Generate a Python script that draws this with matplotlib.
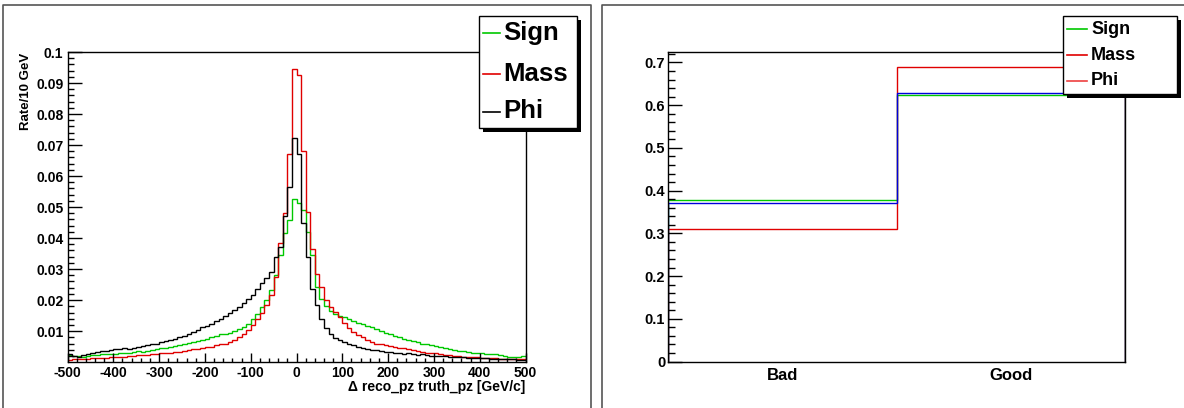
import numpy as np
import matplotlib
matplotlib.use("Agg")
import matplotlib.pyplot as plt
from matplotlib.ticker import MultipleLocator, FuncFormatter, FixedLocator
from matplotlib.patches import Rectangle

plt.rcParams['font.family'] = ['Liberation Sans', 'DejaVu Sans']
plt.rcParams['font.weight'] = 'bold'

# left panel: delta pz histograms, 100 bins of 10 GeV from -500 to 500
edges = np.arange(-500, 501, 10)

sign_vals = [
    0.0023, 0.0020, 0.0019, 0.0018, 0.0020, 0.0022, 0.0024, 0.0025, 0.0026, 0.0025,
    0.0027, 0.0029, 0.0028, 0.0031, 0.0033, 0.0035, 0.0034, 0.0037, 0.0040, 0.0042,
    0.0044, 0.0047, 0.0049, 0.0053, 0.0056, 0.0058, 0.0062, 0.0065, 0.0068, 0.0072,
    0.0076, 0.0080, 0.0085, 0.0090, 0.0092, 0.0095, 0.0100, 0.0106, 0.0114, 0.0122,
    0.0140, 0.0155, 0.0178, 0.0200, 0.0232,
    0.0280, 0.0345, 0.0415, 0.0458, 0.0525, 0.0514, 0.0490, 0.0420, 0.0345,
    0.0243, 0.0205, 0.0180, 0.0165, 0.0155, 0.0150, 0.0146, 0.0140, 0.0132, 0.0126,
    0.0124, 0.0116, 0.0112, 0.0108, 0.0100, 0.0095, 0.0090, 0.0085, 0.0082, 0.0076,
    0.0072, 0.0068, 0.0066, 0.0060, 0.0058, 0.0056, 0.0052, 0.0049, 0.0047, 0.0042,
    0.0040, 0.0036, 0.0035, 0.0032, 0.0030, 0.0029, 0.0028, 0.0026, 0.0027, 0.0025,
    0.0022, 0.0019, 0.0017, 0.0016, 0.0018, 0.0021,
]

mass_vals = [
    0.0008, 0.0009, 0.0010, 0.0010, 0.0011, 0.0012, 0.0013, 0.0012, 0.0014, 0.0016,
    0.0017, 0.0018, 0.0017, 0.0019, 0.0020, 0.0022, 0.0023, 0.0024, 0.0026, 0.0025,
    0.0028, 0.0030, 0.0031, 0.0033, 0.0034, 0.0036, 0.0038, 0.0041, 0.0043, 0.0045,
    0.0048, 0.0050, 0.0054, 0.0058, 0.0060, 0.0066, 0.0072, 0.0082, 0.0092, 0.0105,
    0.0120, 0.0138, 0.0160, 0.0185, 0.0215,
    0.0275, 0.0383, 0.0480, 0.0670, 0.0945, 0.0926, 0.0680, 0.0485, 0.0365,
    0.0284, 0.0243, 0.0200, 0.0177, 0.0162, 0.0146, 0.0126, 0.0109, 0.0098, 0.0087,
    0.0082, 0.0071, 0.0066, 0.0060, 0.0057, 0.0055, 0.0052, 0.0049, 0.0047, 0.0044,
    0.0042, 0.0038, 0.0035, 0.0033, 0.0031, 0.0030, 0.0028, 0.0025, 0.0024, 0.0022,
    0.0021, 0.0019, 0.0018, 0.0017, 0.0016, 0.0015, 0.0014, 0.0013, 0.0012, 0.0012,
    0.0011, 0.0010, 0.0010, 0.0009, 0.0010, 0.0009,
]

phi_vals = [
    0.0026, 0.0019, 0.0017, 0.0023, 0.0025, 0.0031, 0.0034, 0.0036, 0.0037, 0.0038,
    0.0041, 0.0042, 0.0044, 0.0043, 0.0047, 0.0050, 0.0051, 0.0055, 0.0058, 0.0060,
    0.0064, 0.0068, 0.0072, 0.0076, 0.0080, 0.0083, 0.0090, 0.0098, 0.0104, 0.0112,
    0.0118, 0.0124, 0.0132, 0.0140, 0.0150, 0.0158, 0.0168, 0.0178, 0.0190, 0.0205,
    0.0218, 0.0235, 0.0255, 0.0272, 0.0292,
    0.0340, 0.0370, 0.0470, 0.0565, 0.0724, 0.0670, 0.0450, 0.0340, 0.0235,
    0.0184, 0.0140, 0.0110, 0.0090, 0.0078, 0.0070, 0.0064, 0.0058, 0.0055, 0.0050,
    0.0045, 0.0042, 0.0040, 0.0039, 0.0036, 0.0033, 0.0032, 0.0030, 0.0029, 0.0027,
    0.0028, 0.0026, 0.0024, 0.0025, 0.0022, 0.0021, 0.0020, 0.0019, 0.0019, 0.0017,
    0.0018, 0.0016, 0.0015, 0.0014, 0.0014, 0.0013, 0.0012, 0.0012, 0.0011, 0.0010,
    0.0011, 0.0010, 0.0009, 0.0009, 0.0008, 0.0007,
]

# right panel: Bad / Good fractions
cats = ['Bad', 'Good']
frac_green = [0.378, 0.624]
frac_red = [0.311, 0.689]
frac_blue = [0.372, 0.628]

legend_left = ['Sign', 'Mass', 'Phi']
legend_right = ['Sign', 'Mass', 'Phi']

GREEN = '#00c800'
RED = '#e00000'
BLUE = '#0000dd'

W, H = 1184, 408
fig = plt.figure(figsize=(W / 100, H / 100), dpi=100)


def box(x0, y0, x1, y1):
    return [x0 / W, 1 - y1 / H, (x1 - x0) / W, (y1 - y0) / H]


fmt = FuncFormatter(lambda v, p: '%g' % round(v, 4))

# ---- left panel
ax1 = fig.add_axes(box(67.5, 52, 525.5, 361.5))
ax1.stairs(sign_vals, edges, color=GREEN, lw=1.0, baseline=None)
ax1.stairs(mass_vals, edges, color=RED, lw=1.0, baseline=None)
ax1.stairs(phi_vals, edges, color='black', lw=1.0, baseline=None)
ax1.xaxis.set_major_locator(MultipleLocator(100))
ax1.xaxis.set_minor_locator(MultipleLocator(20))
ax1.yaxis.set_major_locator(FixedLocator(np.arange(1, 11) / 100))
ax1.yaxis.set_minor_locator(MultipleLocator(0.002))
ax1.xaxis.set_major_formatter(fmt)
ax1.yaxis.set_major_formatter(fmt)
ax1.set_xlim(-500, 500)
ax1.set_ylim(0.0002, 0.1)
ax1.tick_params(axis='x', which='major', direction='in', length=6.5, width=1, pad=3, labelsize=10)
ax1.tick_params(axis='x', which='minor', direction='in', length=3.2, width=1)
ax1.tick_params(axis='y', which='major', direction='in', length=9.8, width=1, pad=3, labelsize=10)
ax1.tick_params(axis='y', which='minor', direction='in', length=4.5, width=1)

# ---- right panel
xe = np.arange(len(cats) + 1)
ax2 = fig.add_axes(box(668, 52, 1125, 361.5))
ax2.stairs(frac_green, xe, color=GREEN, lw=1.0, baseline=0)
ax2.stairs(frac_red, xe, color=RED, lw=1.0, baseline=0)
ax2.stairs(frac_blue, xe, color=BLUE, lw=1.0, baseline=0)
ax2.set_xlim(0, 2)
ax2.set_ylim(0, 0.7245)
ax2.set_xticks(xe[:-1] + 0.5)
ax2.set_xticklabels(cats, fontsize=12, fontweight='bold')
ax2.tick_params(axis='x', length=0, pad=5)
ax2.yaxis.set_major_locator(MultipleLocator(0.1))
ax2.yaxis.set_minor_locator(MultipleLocator(0.02))
ax2.yaxis.set_major_formatter(fmt)
ax2.set_ylim(0, 0.7245)
ax2.tick_params(axis='y', which='major', direction='in', length=9.8, width=1, pad=2, labelsize=10.5)
ax2.tick_params(axis='y', which='minor', direction='in', length=5, width=1)

for a in (ax1, ax2):
    for s in a.spines.values():
        s.set_linewidth(1.0)
        s.set_zorder(5)

# ---- overlay in pixel coordinates: pad frames, titles, legends
ov = fig.add_axes([0, 0, 1, 1])
ov.set_xlim(0, W)
ov.set_ylim(H, 0)
ov.axis('off')

ov.plot([2.5, 2.5, 591, 591], [410, 4.5, 4.5, 410], color='#555555', lw=1.2)
ov.plot([602.3, 602.3, 1186], [410, 4.5, 4.5], color='#555555', lw=1.2)

ov.text(26, 53, 'Rate/10 GeV', rotation=90, ha='center', va='top', fontsize=9.5, fontweight='bold')
ov.text(525, 387, '\u0394 reco_pz truth_pz [GeV/c]', ha='right', va='center', fontsize=10, fontweight='bold')


def legend(x0, y0, x1, y1, labels, colors, ys, line_x, text_x, size):
    ov.add_patch(Rectangle((x0 + 4, y0 + 4), x1 - x0, y1 - y0, facecolor='black', edgecolor='none'))
    ov.add_patch(Rectangle((x0, y0), x1 - x0, y1 - y0, facecolor='white', edgecolor='black', lw=1.0))
    for lab, c, y in zip(labels, colors, ys):
        ov.plot(line_x, [y, y], color=c, lw=1.2)
        ov.text(text_x, y, lab, ha='left', va='center', fontsize=size, fontweight='bold')


legend(479.3, 16, 576.7, 128.3, legend_left, [GREEN, RED, 'black'],
       [33, 74, 111.5], [483.3, 500], 503.5, 18.5)
legend(1062.7, 16, 1176.7, 94, legend_right, [GREEN, RED, '#ee4040'],
       [29.3, 55, 80.7], [1066.7, 1086.7], 1091, 13)

fig.savefig('out.png', dpi=100)
